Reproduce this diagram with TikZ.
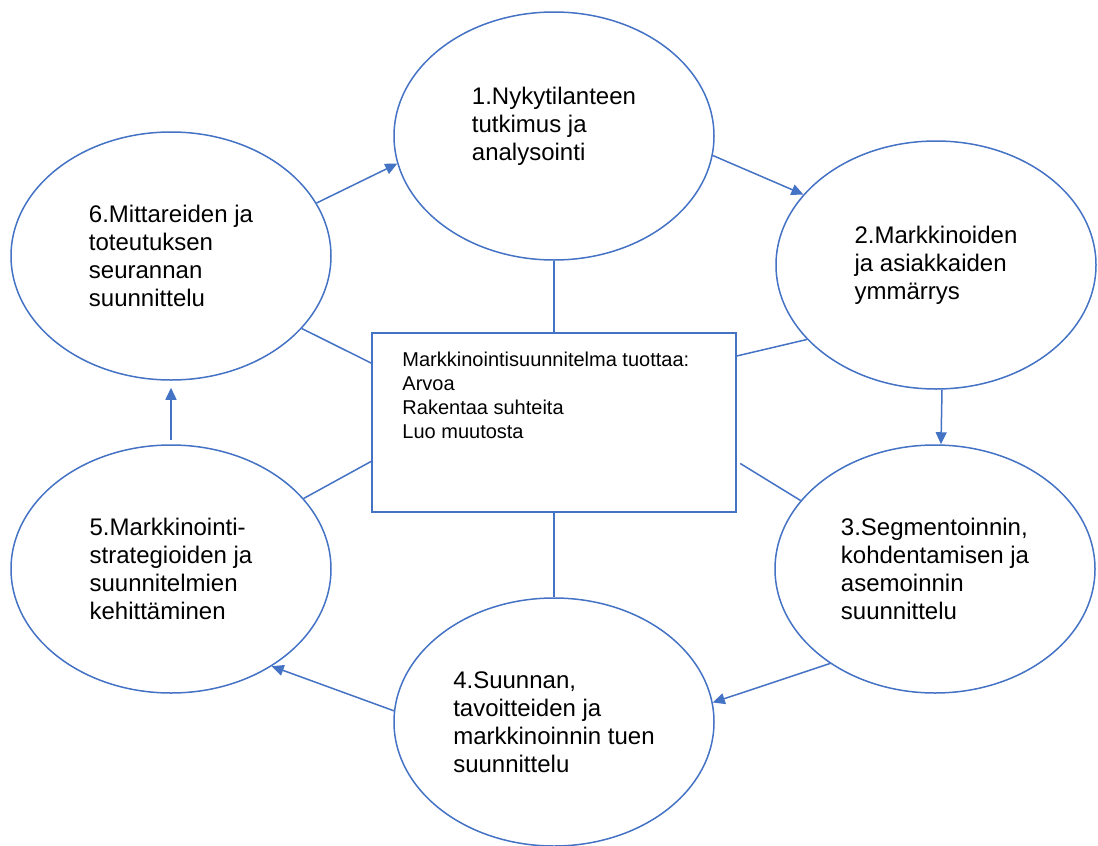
\documentclass[tikz,border=0pt]{standalone}
\usepackage{fontspec}
\setmainfont{Liberation Sans}
\usetikzlibrary{arrows.meta,positioning,shapes.geometric}
\definecolor{cycleblue}{HTML}{4472C4}

\begin{document}
\begin{tikzpicture}[x=1pt,y=-1pt,>={Triangle[length=12pt,width=11pt]},
  phase/.style={draw=cycleblue,line width=1.5pt,ellipse,minimum width=320pt,minimum height=248pt,inner sep=0pt,align=left,font=\fontsize{24}{28}\selectfont},
  flow/.style={draw=cycleblue,line width=1.5pt,->,cycleblue},
  tie/.style={draw=cycleblue,line width=1.5pt}]
\useasboundingbox (0,0) rectangle (1098,846);
\node[phase,text depth=24pt] (survey) at (554,136) {1.Nykytilanteen\\tutkimus ja\\analysointi};
\node[phase] (market) at (936,265) {2.Markkinoiden\\ja asiakkaiden\\ymmärrys};
\node[phase] (segment) at (935,569) {3.Segmentoinnin,\\kohdentamisen ja\\asemoinnin\\suunnittelu};
\node[phase] (target) at (554,722) {4.Suunnan,\\tavoitteiden ja\\markkinoinnin tuen\\suunnittelu};
\node[phase] (strategy) at (171,569) {5.Markkinointi-\\strategioiden ja\\suunnitelmien\\kehittäminen};
\node[phase] (measure) at (171,256) {6.Mittareiden ja\\toteutuksen\\seurannan\\suunnittelu};
\node[draw=cycleblue,line width=1.5pt,minimum width=364pt,minimum height=179pt,inner sep=0pt] (plan) at (554,422.5) {};
\node[below right=20pt and 31pt of plan.north west,inner sep=0pt,align=left,font=\fontsize{20}{24}\selectfont] (gains) {Markkinointisuunnitelma tuottaa:\\Arvoa\\Rakentaa suhteita\\Luo muutosta};
\draw[flow] (measure.20) -- (survey.190);
\draw[flow] (survey.-7) -- (market.152);
\draw[flow] ([xshift=6pt]market.south) -- ([xshift=6pt]segment.north);
\draw[flow] (segment.222) -- (target.7);
\draw[flow] (target.176) -- (strategy.316);
\draw[flow,shorten <=4pt,shorten >=7pt] (strategy.north) -- (measure.south);
\draw[tie] (survey) -- (plan);
\draw[tie] (plan) -- (target);
\draw[tie] (measure.331) -- (plan.162);
\draw[tie] (strategy.28) -- (plan.192);
\draw[tie] (plan.20) -- (market.210);
\draw[tie,shorten <=4pt] (plan.-12) -- (segment.153);
\end{tikzpicture}
\end{document}
